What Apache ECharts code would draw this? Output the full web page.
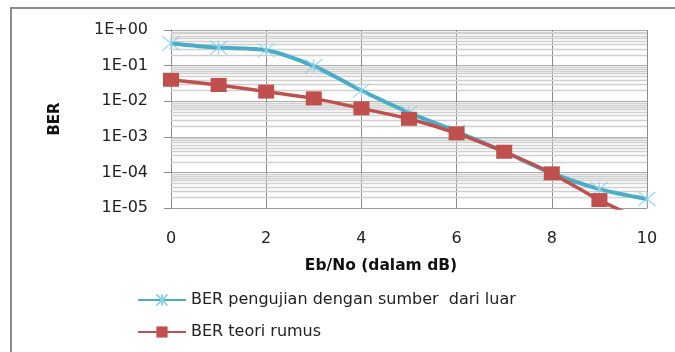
<!DOCTYPE html>
<html>
<head>
<meta charset="utf-8">
<script src="https://cdn.jsdelivr.net/npm/echarts@6/dist/echarts.min.js"></script>
<style>html,body{margin:0;padding:0;background:#fff}#c{width:675px;height:352px}</style>
</head>
<body>
<div id="c"></div>
<script>
// Data
var ebno = [0, 1, 2, 3, 4, 5, 6, 7, 8, 9, 10];
var berUji = [0.42, 0.32, 0.27, 0.097, 0.02, 0.0048, 0.0014, 0.00038, 0.000095, 0.000034, 0.000018];
var berTeori = [0.04, 0.0285, 0.0186, 0.012, 0.0063, 0.0032, 0.00125, 0.00038, 0.000094, 0.0000167, 0.0000039];
var yTickLabels = ['1E-05', '1E-04', '1E-03', '1E-02', '1E-01', '1E+00'];
var seriesNames = ['BER pengujian dengan sumber  dari luar', 'BER teori rumus'];
var xTitle = 'Eb/No (dalam dB)';
var yTitle = 'BER';

function pairs(xs, ys) { return xs.map(function (x, i) { return [x, ys[i]]; }); }

// minor log gridline positions (2..9 x 10^n)
var minorGrid = [];
for (var e = -5; e < 0; e++) {
  for (var k = 2; k <= 9; k++) minorGrid.push([0, k * Math.pow(10, e)]);
}

var font = 'DejaVu Sans';
var chart = echarts.init(document.getElementById('c'), null, { renderer: 'canvas' });
chart.setOption({
  animation: false,
  backgroundColor: '#ffffff',
  graphic: [{
    type: 'rect', z: -10, silent: true,
    shape: { x: 11, y: 8, width: 720, height: 420 },
    style: { fill: 'none', stroke: '#8a8a8a', lineWidth: 2 }
  }],
  grid: { left: 171, right: 28, top: 30, bottom: 144, containLabel: false },
  legend: {
    orient: 'vertical', left: 132, top: 286,
    itemWidth: 48, itemHeight: 14, itemGap: 14,
    data: seriesNames,
    textStyle: { fontFamily: font, fontSize: 16, color: '#222', lineHeight: 18 }
  },
  xAxis: {
    type: 'value', min: 0, max: 10, interval: 2,
    name: xTitle, nameLocation: 'middle', nameGap: 50,
    nameTextStyle: { fontFamily: font, fontSize: 15.5, fontWeight: 'bold', color: '#111', padding: [0, 56, 0, 0] },
    axisLine: { show: true, onZero: false, lineStyle: { color: '#9a9a9a', width: 1 } },
    axisTick: { show: false },
    axisLabel: { fontFamily: font, fontSize: 16, color: '#222', margin: 23 },
    splitLine: { show: true, lineStyle: { color: '#8c8c8c', width: 1 } }
  },
  yAxis: {
    type: 'log', logBase: 10, min: 1e-5, max: 1,
    name: yTitle, nameLocation: 'middle', nameGap: 108, nameRotate: 90,
    nameTextStyle: { fontFamily: font, fontSize: 15, fontWeight: 'bold', color: '#111' },
    axisLine: { show: true, lineStyle: { color: '#8c8c8c', width: 1 } },
    axisTick: { show: true, length: 7, lineStyle: { color: '#8c8c8c' } },
    axisLabel: {
      fontFamily: font, fontSize: 16, color: '#222', margin: 23,
      formatter: function (v) { var i = Math.round(Math.log10(v)) + 5; return yTickLabels[i] || ''; }
    },
    splitLine: { show: true, lineStyle: { color: '#ababab', width: 1 } }
  },
  series: [
    {
      type: 'custom', name: 'grid-minor', z: 1, silent: true,
      data: minorGrid,
      encode: { x: 0, y: 1 },
      renderItem: function (params, api) {
        var v = api.value(1);
        var p0 = api.coord([0, v]);
        var p1 = api.coord([10, v]);
        return {
          type: 'line',
          shape: { x1: p0[0], y1: Math.round(p0[1]) + 0.5, x2: p1[0], y2: Math.round(p0[1]) + 0.5 },
          style: { stroke: '#d0d0d0', lineWidth: 1.3 }
        };
      }
    },
    {
      type: 'line', name: seriesNames[0], data: pairs(ebno, berUji), z: 3,
      smooth: 0.3,
      symbol: 'path://M0,0L16,14M16,0L0,14M8,0L8,14', symbolSize: [17, 14],
      itemStyle: { color: '#8fd3e8', borderColor: '#8fd3e8', borderWidth: 1 },
      lineStyle: { color: '#4bacc6', width: 4 },
      clip: true
    },
    {
      type: 'line', name: seriesNames[1], data: pairs(ebno, berTeori), z: 4,
      smooth: 0.2,
      symbol: 'rect', symbolSize: [16, 14],
      itemStyle: { color: '#c0504d' },
      lineStyle: { color: '#c0504d', width: 3.5 },
      clip: true
    }
  ]
});
</script>
</body>
</html>
